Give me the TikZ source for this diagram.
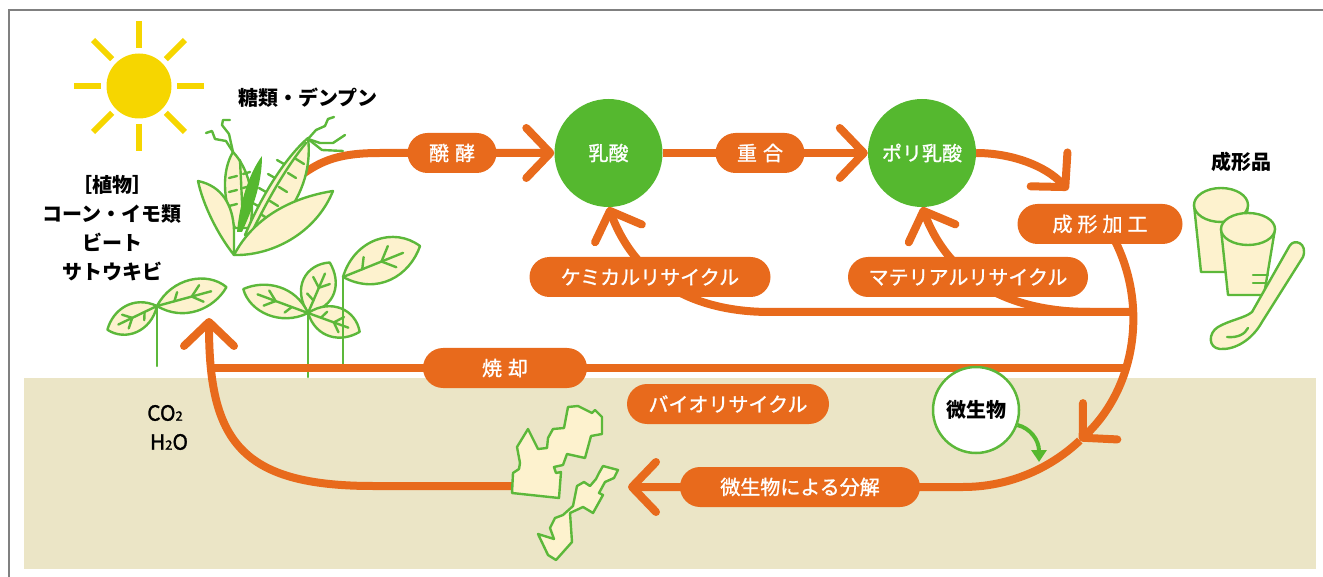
\documentclass[tikz,border=0pt]{standalone}
\usepackage{fontspec}
\newfontfamily\jp{Noto Sans CJK JP}
\newfontfamily\jpm[FakeBold=1.2]{Noto Sans CJK JP}
\usetikzlibrary{arrows.meta,calc}
\definecolor{flow}{HTML}{E86A1C}
\definecolor{leafgreen}{HTML}{5CB83A}
\definecolor{acid}{HTML}{55B82F}
\definecolor{cream}{HTML}{FDF2CE}
\definecolor{soil}{HTML}{EBE5C6}
\definecolor{sunyellow}{HTML}{F6D600}
\definecolor{framegray}{HTML}{808080}
\pgfdeclarelayer{back}
\pgfdeclarelayer{flows}
\pgfsetlayers{back,flows,main}
\tikzset{
  chev/.tip={Straight Barb[length=24pt, width=50pt, line width=8pt, round]},
  flowline/.style={draw=flow, line width=8pt},
  pill/.style={fill=flow, rounded corners=20pt, minimum height=40pt, inner sep=0pt,
    text=white, font=\jpm\fontsize{20}{24}\selectfont},
  acidball/.style={circle, fill=acid, minimum size=108pt, inner sep=0pt,
    text=white, font=\jpm\fontsize{20}{24}\selectfont},
  microbe/.style={circle, draw=leafgreen, line width=2.5pt, fill=white, minimum size=86pt,
    inner sep=0pt, font=\jp\bfseries\fontsize{20}{24}\selectfont},
  plantline/.style={draw=leafgreen, line width=2.4pt, line join=round, line cap=round},
  blacktext/.style={font=\jp\bfseries\fontsize{20}{24}\selectfont, text=black, inner sep=0pt},
}
% a seedling leaf: base point, direction, length, half width
\newcommand\seedleaf[4]{%
  \begin{scope}[shift={#1}, rotate=#2]
    \draw[plantline, fill=cream] (0,0)
      .. controls ({0.3*#3},{-1.3*#4}) and ({0.8*#3},{-1.15*#4}) .. (#3,0)
      .. controls ({0.75*#3},{1.0*#4}) and ({0.3*#3},{1.25*#4}) .. cycle;
    \draw[plantline] (0,0) -- ({0.78*#3},0);
    \draw[plantline] ({0.5*#3},0) -- ({0.64*#3},{-0.5*#4});
    \draw[plantline] ({0.5*#3},0) -- ({0.64*#3},{0.45*#4});
    \draw[plantline] ({0.25*#3},0) -- ({0.32*#3},{-0.45*#4});
  \end{scope}}
\begin{document}
\begin{tikzpicture}[x=1pt, y=-1pt]
\useasboundingbox (0,0) rectangle (1323,577);

\begin{pgfonlayer}{back}
  % soil band and frame
  \fill[soil] (24,378) rectangle (1316,569);
  \draw[framegray, line width=2pt] (9,577) -- (9,10) -- (1323,10);
  % sun
  \coordinate (sun) at (139,86);
  \fill[sunyellow] (sun) circle[radius=32.5];
  \foreach \a in {0,45,...,315}
    \draw[sunyellow, line width=6pt] ($(sun)+(\a:38)$) -- ($(sun)+(\a:65)$);
  % seedlings
  \seedleaf{(308,313)}{66.7}{55}{19}
  \seedleaf{(157,306)}{205.6}{55}{16}
  \seedleaf{(157,306)}{15.2}{72}{18}
  \seedleaf{(308,313)}{159.7}{69}{17}
  \seedleaf{(308,313)}{-20}{55}{17}
  \seedleaf{(343,277)}{21.9}{83}{24}
  \draw[plantline] (157,306) -- (157,366);
  \draw[plantline] (308,313) -- (308,377);
  \draw[plantline] (343,277) -- (343,366);
\end{pgfonlayer}

% process stages
\node[acidball] (lactic) at (608.5,153) {乳酸};
\node[acidball] (pla) at (922,153) {ポリ乳酸};
\node[pill, minimum width=89pt] (ferment) at (452,153) {醗\hspace{6pt}酵};
\node[pill, minimum width=89pt] (polym) at (760,153) {重\hspace{6pt}合};
\node[pill, minimum width=165pt] (mold) at (1100,224) {成\hspace{5pt}形\hspace{5pt}加\hspace{5pt}工};
\node[pill, minimum width=241pt] (chem) at (650,277) {ケミカルリサイクル};
\node[pill, minimum width=240pt] (mat) at (968,277) {マテリアルリサイクル};
\node[pill, minimum width=164pt] (burn) at (505,368) {焼\hspace{6pt}却};
\node[pill, minimum width=202pt] (bio) at (728,404) {バイオリサイクル};
\node[pill, minimum width=240pt] (decomp) at (800,487) {微生物による分解};
\node[microbe] (mic) at (976,410) {微生物};

% labels
\node[blacktext] (sugar) at (308,98) {糖類・デンプン};
\node[blacktext] (products) at (1241,162) {成形品};
\node[blacktext, align=center, font=\jp\bfseries\fontsize{20}{29}\selectfont] (plants) at (112,228)
  {［植物］\\コーン・イモ類\\ビート\\サトウキビ};
\node[font=\jpm\fontsize{21}{25}\selectfont, inner sep=0pt] (co2) at (165,413) {CO{\fontsize{13}{13}\selectfont 2}};
\node[font=\jpm\fontsize{21}{25}\selectfont, inner sep=0pt] (h2o) at (169,442) {H{\fontsize{13}{13}\selectfont 2}O};

% junction points of the cycle
\coordinate (cornout) at (300,176);
\coordinate (C) at (963,317);
\coordinate (moldtip) at (1068,190);
\coordinate (arcStart) at ($(C)+(-30:170)$);
\coordinate (arcMid) at ($(C)+(46.6:170)$);
\coordinate (recJoin) at ($(C)+(-1.7:170)$);
\coordinate (burnJoin) at ($(C)+(17.5:170)$);
\coordinate (matJoin) at (1090,312);
\coordinate (fragtip) at (628,487);
\coordinate (fragL) at (545,486);
\coordinate (plantTip) at (209,318);
\coordinate (burnEnd) at (212,368);

\begin{pgfonlayer}{flows}
  \draw[flowline, -chev] (cornout) .. controls (322,160) and (340,153) .. (380,153) -- (lactic.west);
  \draw[flowline, -chev] (lactic.east) -- (pla.west);
  \draw[flowline, -chev] (pla.east) .. controls (1010,153) and (1045,165) .. (moldtip);
  \draw[flowline, -chev] (arcStart) arc[start angle=-30, end angle=46.6, radius=170];
  \draw[flowline, -chev] (arcMid) arc[start angle=46.6, end angle=90, radius=170] -- (fragtip);
  \draw[flowline, -chev] (fragL) -- (373,486) .. controls (240,486) and (209,440) .. (plantTip);
  \draw[flowline] (burnJoin) -- (burnJoin -| burnEnd);
  \draw[flowline, -chev] (recJoin) -- (770,312) .. controls (700,312) and (638,285) .. (lactic.south);
  \draw[flowline, -chev] (matJoin) .. controls (1016,312) and (952,285) .. (pla.south);
\end{pgfonlayer}

% microbes act on the waste
\draw[draw=acid, line width=4pt, -{Triangle[length=12pt, width=15pt]}]
  (mic.-20) .. controls (1030,428) and (1039,440) .. (1039,462);

% corn cobs and husks
\draw[plantline, fill=cream] (235,228) .. controls (222,200) and (222,170) .. (233,152)
  .. controls (248,168) and (256,195) .. (250,228) -- cycle;
\draw[plantline] (240,160) -- (243,222);
\foreach \y in {178,192,206} {
  \draw[plantline] (229,\y) -- (237,{\y-2});
  \draw[plantline] (243,{\y-4}) -- (250,{\y-6});
}
\draw[plantline, fill=cream] (245,235) .. controls (262,195) and (285,158) .. (308,138)
  .. controls (312,170) and (300,200) .. (280,222) -- cycle;
\draw[plantline] (252,232) .. controls (270,195) and (288,165) .. (306,143);
\foreach \p/\q in {262/215,270/201,279/187,288/173,296/159}
  \draw[plantline] (\p,\q) -- ({\p+8},{\q+5});
\foreach \p/\q in {258/206,266/192,275/178,284/164}
  \draw[plantline] (\p,\q) -- ({\p-7},{\q-4});
\fill[acid] (237,232) .. controls (240,200) and (250,172) .. (262,156)
  .. controls (262,185) and (252,210) .. (242,232) -- cycle;
\draw[plantline, fill=cream] (234,255) .. controls (218,235) and (203,205) .. (198,181)
  .. controls (222,186) and (233,205) .. (234,230) -- cycle;
\draw[plantline, fill=cream] (234,255) .. controls (270,256) and (315,235) .. (333,191)
  .. controls (295,197) and (255,215) .. cycle;
% corn silk
\draw[plantline] (233,152) -- (226,141) -- (215,139) -- (212,131) -- (206,133);
\draw[plantline] (233,152) -- (229,134) -- (222,125) -- (223,120) -- (230,120);
\draw[plantline] (308,139) -- (316,130) -- (325,126) -- (328,119) -- (334,117);
\draw[plantline] (308,139) -- (320,143) -- (333,143) -- (345,135);
\draw[plantline] (308,139) -- (322,150) -- (343,151);

% broken-down fragments
\draw[plantline, fill=cream] (568,407) -- (578,406) -- (592,413) -- (595,410) -- (602,417)
  -- (602,434) -- (591,436) -- (585,458) -- (567,454) -- (563,465) -- (554,467) -- (556,473)
  -- (561,472) -- (559,498) -- (512,493) -- (513,473) -- (519,469) -- (520,463) -- (517,447)
  -- (528,429) -- (538,449) -- (547,448) -- (548,438) -- (553,429) -- (564,428) -- cycle;
\draw[plantline, fill=cream] (603,466) -- (618,470) -- (614,478) -- (605,482) -- (599,493)
  -- (603,495) -- (593,513) -- (583,507) -- (570,513) -- (572,542) -- (556,560) -- (548,555)
  -- (538,534) -- (554,539) -- (550,528) -- (555,518) -- (563,515) -- (573,506) -- (577,486)
  -- (584,482) -- (590,486) -- (596,479) -- (599,473) -- cycle;

% molded products: two cups and a spoon
\draw[plantline, fill=cream] (1194,205) -- (1201,272) -- (1240,272) -- (1248,205) -- cycle;
\draw[plantline, fill=cream] (1221,205) ellipse[x radius=27, y radius=17];
\draw[plantline, fill=cream] (1221,229) -- (1228,295) -- (1264,295) -- (1275,229) -- cycle;
\draw[plantline, fill=cream] (1248,229) ellipse[x radius=27, y radius=16];
\draw[plantline] (1253,275) -- (1268,275);
\draw[plantline] (1253,283) -- (1267,283);
\draw[plantline, fill=cream] (1289.5,246) .. controls (1294,238) and (1308,243) .. (1303,257)
  -- (1262,322) .. controls (1252,340) and (1235,350) .. (1220,349)
  .. controls (1208,348) and (1208,333) .. (1218,327)
  .. controls (1230,320) and (1245,318) .. (1252,312) -- cycle;
\draw[plantline] (1227,337) .. controls (1238,338) and (1245,334) .. (1248,328);
\end{tikzpicture}
\end{document}
